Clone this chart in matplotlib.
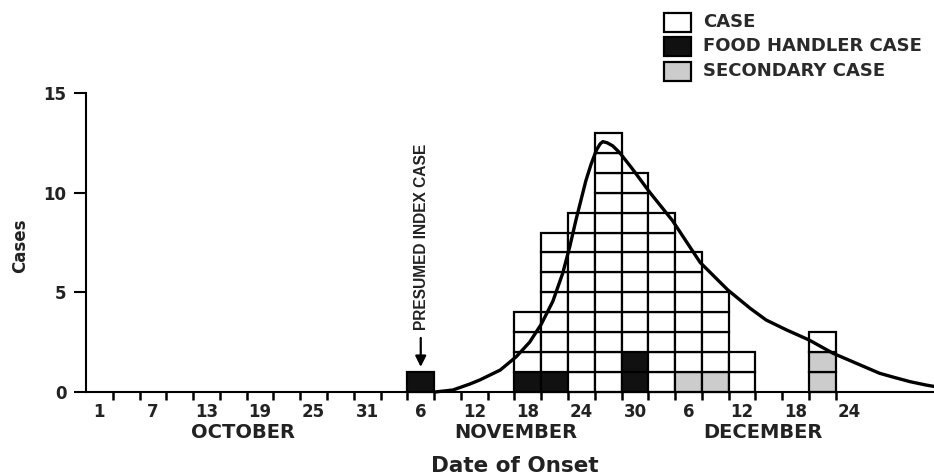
import numpy as np
import matplotlib
matplotlib.use("Agg")
import matplotlib.pyplot as plt
from matplotlib.patches import Rectangle

# days counted from October 1 (= day 0); each bar covers 3 days
bin_start = [36, 48, 51, 54, 57, 60, 63, 66, 69, 72, 81]
total_cases = [1, 4, 8, 9, 13, 11, 9, 7, 5, 2, 3]
food_handler = [1, 1, 1, 0, 0, 2, 0, 0, 0, 0, 0]
secondary = [0, 0, 0, 0, 0, 0, 0, 1, 1, 0, 2]

# fitted epidemic curve (day, cases)
curve_day = [39.1, 41.1, 43.0, 44.1, 46.4, 48.2, 49.7, 51.0, 52.3, 53.4,
             54.2, 54.9, 56.0, 56.6, 57.2, 57.6, 57.9, 58.4, 59.0, 59.8,
             61.2, 63.1, 65.7, 68.8, 71.9, 74.4, 76.2, 78.5, 81.0, 83.7,
             86.3, 88.9, 90.4, 92.3, 94.1, 95.0]
curve_cases = [0.0, 0.1, 0.4, 0.6, 1.1, 1.77, 2.5, 3.4, 4.55, 5.95,
               7.3, 8.65, 10.6, 11.45, 12.15, 12.45, 12.56, 12.5, 12.35, 12.0,
               11.2, 10.05, 8.6, 6.5, 5.12, 4.2, 3.61, 3.11, 2.61, 1.94,
               1.44, 0.94, 0.75, 0.52, 0.35, 0.28]

tick_days = [0, 6, 12, 18, 24, 30, 36, 42, 48, 54, 60, 66, 72, 78, 84]
tick_labels = ['1', '7', '13', '19', '25', '31', '6', '12', '18', '24',
               '30', '6', '12', '18', '24']
months = ['OCTOBER', 'NOVEMBER', 'DECEMBER']
month_pos = [17.6, 48.2, 75.8]

legend_labels = ['CASE', 'FOOD HANDLER CASE', 'SECONDARY CASE']
colors = {'case': 'white', 'food': '#111111', 'sec': '#cccccc'}

W, H = 934, 476
fig = plt.figure(figsize=(W / 100, H / 100), dpi=100)
ax = fig.add_axes([86 / W, 84 / H, (W - 86) / W, 299 / H])

# one box per case, food handler / secondary at the bottom
xs, bottoms, fills = [], [], []
for d, tot, fh, sc in zip(bin_start, total_cases, food_handler, secondary):
    for k in range(tot):
        if k < fh:
            c = colors['food']
        elif k < fh + sc:
            c = colors['sec']
        else:
            c = colors['case']
        xs.append(d + 1.5)
        bottoms.append(k)
        fills.append(c)
ax.bar(xs, 1, width=3, bottom=bottoms, color=fills, edgecolor='black',
       linewidth=1.6, zorder=2, clip_on=False)

ax.plot(curve_day, curve_cases, color='black', lw=2.4, zorder=3,
        solid_capstyle='round', solid_joinstyle='round', clip_on=False)

ax.set_xlim(0, 95)
ax.set_ylim(0, 15)
for s in ['top', 'right']:
    ax.spines[s].set_visible(False)
ax.spines['left'].set_bounds(0, 15)
ax.spines['left'].set_linewidth(1.5)
ax.spines['bottom'].set_linewidth(1.5)

ax.set_yticks([0, 5, 10, 15])
ax.tick_params(axis='y', length=9, width=1.5, pad=5, labelsize=12,
               labelcolor='#222222')
ax.set_xticks([d + 1.5 for d in tick_days])
ax.set_xticklabels(tick_labels)
ax.set_xticks(np.arange(3, 85, 3), minor=True)
ax.tick_params(axis='x', which='major', length=0, pad=8, labelsize=12,
               labelcolor='#222222')
ax.tick_params(axis='x', which='minor', length=6, width=1.8)
for lab in ax.get_xticklabels() + ax.get_yticklabels():
    lab.set_fontweight('bold')

for m, p in zip(months, month_pos):
    ax.text(p, -0.137, m, transform=ax.get_xaxis_transform(), ha='center',
            va='center', fontsize=14, fontweight='bold', color='#222222')

ax.set_xlabel('Date of Onset', fontsize=15.5, fontweight='bold', color='#222222')
ax.xaxis.set_label_coords(0.506, -0.246)
ax.xaxis.label.set_va('center')
ax.set_ylabel('Cases', fontsize=12, fontweight='bold', color='#222222')
ax.yaxis.set_label_coords(-0.078, 0.49)
ax.yaxis.label.set_va('center')

# presumed index case marker
ax.annotate('', xy=(37.5, 1.12), xytext=(37.5, 2.85),
            arrowprops=dict(arrowstyle='-|>', lw=1.6, color='black',
                            mutation_scale=16))
ax.text(37.6, 3.1, 'PRESUMED INDEX CASE', rotation=90, ha='center',
        va='bottom', fontsize=11.2, fontweight='bold', color='#222222',
        family=['DejaVu Sans Condensed', 'Liberation Sans'])

# legend drawn by hand
for i, (lab, c) in enumerate(zip(legend_labels, [colors['case'], colors['food'], colors['sec']])):
    yc = [22, 46, 71][i]
    fig.add_artist(Rectangle((664 / W, 1 - (yc + 9.5) / H), 27 / W, 19 / H,
                             transform=fig.transFigure, facecolor=c,
                             edgecolor='black', linewidth=1.6))
    fig.text(703 / W, 1 - yc / H, lab, ha='left', va='center', fontsize=13,
             fontweight='bold', color='#2a2a2a')

fig.savefig('out.png', dpi=100)
